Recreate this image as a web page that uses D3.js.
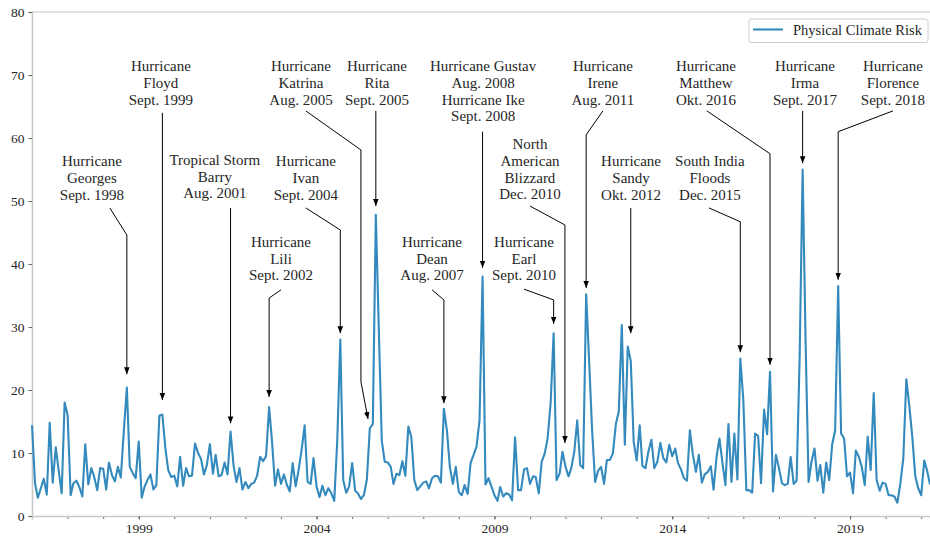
<!DOCTYPE html>
<html>
<head>
<meta charset="utf-8">
<script src="https://cdn.jsdelivr.net/npm/d3@7"></script>
<style>
  body { margin: 0; background: #fff; }
  svg { display: block; }
  text { font-family: "Liberation Serif", "Times New Roman", serif; fill: #262626; }
</style>
</head>
<body>
<svg id="chart" width="930" height="540"></svg>
<script>
// Monthly physical climate risk index, starting January 1996
const startYear = 1996;
const riskValues = [
  14.4, 5.2, 2.9, 4.4, 5.9, 3.4, 14.8, 5.3, 10.9, 7.2, 3.6, 18.0,   // 1996
  16.0, 3.3, 5.2, 5.6, 4.6, 3.1, 11.4, 5.0, 7.6, 6.2, 4.1, 7.6,     // 1997
  7.5, 4.2, 8.5, 6.5, 5.5, 7.8, 6.1, 13.5, 20.4, 7.8, 6.8, 6.0,     // 1998
  11.8, 2.9, 4.6, 5.7, 6.6, 4.2, 4.9, 15.9, 16.1, 10.8, 7.2, 6.2,   // 1999
  6.4, 4.7, 9.4, 4.8, 7.6, 6.3, 6.4, 11.5, 10.0, 9.1, 6.6, 8.1,     // 2000
  11.4, 6.7, 9.7, 6.3, 6.5, 8.5, 6.6, 13.4, 8.0, 5.4, 7.6, 4.2,     // 2001
  5.4, 4.4, 5.1, 5.3, 6.4, 9.4, 8.7, 9.5, 17.3, 11.8, 4.8, 7.4,     // 2002
  5.1, 6.6, 5.0, 3.9, 8.4, 4.7, 7.3, 10.5, 14.4, 5.4, 5.1, 9.2,     // 2003
  4.7, 3.0, 4.8, 3.3, 4.4, 3.6, 2.4, 12.0, 28.0, 5.7, 3.7, 4.7,     // 2004
  8.4, 4.0, 3.6, 2.7, 3.3, 5.8, 13.9, 14.6, 47.8, 30.0, 12.0, 8.6,  // 2005
  8.5, 7.8, 5.1, 6.7, 6.5, 8.7, 6.4, 14.2, 12.5, 5.7, 4.1, 4.7,     // 2006
  5.3, 5.5, 4.4, 6.0, 6.4, 6.3, 5.3, 17.0, 13.6, 7.8, 5.1, 7.8,     // 2007
  3.8, 3.3, 4.9, 3.5, 8.4, 9.7, 11.0, 15.2, 38.0, 5.0, 6.0, 4.7,    // 2008
  3.3, 2.4, 4.6, 3.1, 3.6, 3.4, 2.5, 12.5, 4.1, 4.1, 7.4, 7.6,      // 2009
  5.1, 6.3, 6.2, 3.6, 8.6, 9.9, 12.3, 17.9, 29.0, 5.7, 6.7, 10.2,   // 2010
  7.8, 6.3, 7.6, 10.2, 15.2, 8.1, 7.6, 35.2, 24.4, 13.6, 5.4, 7.2,  // 2011
  7.8, 5.1, 8.9, 8.9, 9.9, 14.6, 16.6, 30.3, 11.3, 26.9, 24.6, 11.8, // 2012
  8.8, 14.4, 7.9, 7.6, 10.2, 12.1, 7.6, 8.6, 11.6, 9.2, 8.5, 11.3,  // 2013
  9.5, 10.7, 8.4, 7.4, 6.0, 5.6, 13.6, 9.7, 7.0, 9.7, 5.3, 6.6,     // 2014
  7.0, 7.9, 4.2, 9.4, 12.3, 8.4, 4.9, 14.6, 5.4, 13.1, 5.8, 25.0,   // 2015
  18.4, 4.1, 4.1, 3.7, 13.1, 12.7, 5.2, 16.9, 13.0, 22.9, 3.9, 9.7, // 2016
  7.6, 5.2, 4.9, 5.1, 9.4, 5.1, 5.6, 25.0, 55.0, 28.0, 5.4, 8.6,    // 2017
  10.7, 5.6, 8.1, 3.7, 8.5, 5.7, 11.3, 13.6, 36.5, 13.1, 12.3, 6.3, // 2018
  6.9, 3.6, 10.4, 9.4, 7.8, 4.9, 12.6, 7.3, 19.5, 5.7, 4.0, 5.3,    // 2019
  5.1, 3.3, 3.3, 3.1, 2.1, 5.2, 9.2, 21.7, 17.4, 12.6, 6.3, 4.4,    // 2020
  3.3, 8.8, 7.3, 5.0                                                // 2021
];
const seriesName = "Physical Climate Risk";
const yTicks = [0, 10, 20, 30, 40, 50, 60, 70, 80];
const xLabelYears = [1999, 2004, 2009, 2014, 2019];
const yMax = 80;

// Event labels; positions are [months since Jan 1996, index value]
const eventLabels = [
  ["Hurricane", "Georges", "Sept. 1998"],
  ["Hurricane", "Floyd", "Sept. 1999"],
  ["Tropical Storm", "Barry", "Aug. 2001"],
  ["Hurricane", "Lili", "Sept. 2002"],
  ["Hurricane", "Ivan", "Sept. 2004"],
  ["Hurricane", "Katrina", "Aug. 2005"],
  ["Hurricane", "Rita", "Sept. 2005"],
  ["Hurricane Gustav", "Aug. 2008", "Hurricane Ike", "Sept. 2008"],
  ["Hurricane", "Dean", "Aug. 2007"],
  ["North", "American", "Blizzard", "Dec. 2010"],
  ["Hurricane", "Earl", "Sept. 2010"],
  ["Hurricane", "Irene", "Aug. 2011"],
  ["Hurricane", "Sandy", "Okt. 2012"],
  ["South India", "Floods", "Dec. 2015"],
  ["Hurricane", "Matthew", "Okt. 2016"],
  ["Hurricane", "Irma", "Sept. 2017"],
  ["Hurricane", "Florence", "Sept. 2018"]
];
const eventTextAt = [
  [20.2, 56.3], [43.5, 71.4], [61.7, 56.5], [84.0, 43.5], [92.4, 56.3],
  [90.8, 71.4], [116.4, 71.4], [152.2, 71.4], [135.0, 43.5], [168.0, 59.0],
  [166.0, 43.5], [192.6, 71.4], [202.1, 56.3], [228.7, 56.3], [227.4, 71.4],
  [260.8, 71.4], [290.5, 71.4]
];
const eventArrows = [
  [[26.3, 48.9], [32, 44.6], [32, 22.5]],
  [[44, 64.0], [44, 18.4]],
  [[67, 48.9], [67, 14.7]],
  [[84.0, 35.9], [80, 34.6], [80, 18.9]],
  [[92.4, 48.9], [104, 45.4], [104, 29.0]],
  [[92.4, 64.3], [111, 58.1], [111, 21.3], [113.4, 15.4]],
  [[116, 64.3], [116, 49.2]],
  [[152, 61.0], [152, 39.4]],
  [[135.0, 35.9], [139, 34.3], [139, 17.9]],
  [[168.0, 49.2], [179.8, 46.2], [179.8, 11.6]],
  [[166.0, 36.0], [176, 34.3], [176, 30.5]],
  [[192.6, 64.3], [187, 60.5], [187, 36.2]],
  [[202, 48.9], [202, 29.0]],
  [[228.4, 48.9], [239, 46.7], [239, 26.0]],
  [[227.7, 64.3], [249, 57.5], [249, 24.0]],
  [[260, 64.3], [260, 56.0]],
  [[290.5, 64.3], [272, 61.0], [272, 37.5]]
];

const svg = d3.select("#chart");
const margin = { left: 32, right: 0, top: 12, bottom: 24 };
const W = 930, H = 540;

const series = riskValues.map((v, i) => ({ date: new Date(startYear, i, 1), value: v }));

const x = d3.scaleTime()
  .domain([series[0].date, series[series.length - 1].date])
  .range([margin.left, W - margin.right]);
const y = d3.scaleLinear().domain([0, yMax]).range([H - margin.bottom, margin.top]);

// fractional month index -> date
const mDate = m => {
  const whole = Math.floor(m), frac = m - whole;
  const a = new Date(startYear, whole, 1), b = new Date(startYear, whole + 1, 1);
  return new Date(+a + frac * (b - a));
};

// top spine in light grey
svg.append("line").attr("x1", margin.left).attr("x2", W).attr("y1", y(yMax)).attr("y2", y(yMax))
  .attr("stroke", "#c8c8c8").attr("stroke-width", 1.2);

const serif = "Liberation Serif, Times New Roman, serif";

// y axis
const yAxis = svg.append("g").attr("transform", `translate(${margin.left},0)`)
  .call(d3.axisLeft(y).tickValues(yTicks).tickSize(3.5).tickPadding(4).tickFormat(d3.format("d")))
  .attr("font-family", serif).attr("font-size", 13.5);
yAxis.select(".domain").attr("stroke", "#c8c8c8").attr("stroke-width", 1.6);
yAxis.selectAll(".tick line").attr("stroke", "#555").attr("stroke-width", 0.9);
yAxis.selectAll("text").attr("fill", "#262626");

// x axis: a minor tick every year, labels every five years
const yearTicks = d3.range(startYear, 2022).map(yr => new Date(yr, 0, 1));
const xMinor = svg.append("g").attr("transform", `translate(0,${y(0)})`)
  .call(d3.axisBottom(x).tickValues(yearTicks).tickSize(3).tickFormat(""));
xMinor.select(".domain").remove();
xMinor.selectAll(".tick line").attr("stroke", "#555").attr("stroke-width", 0.9);

const xAxis = svg.append("g").attr("transform", `translate(0,${y(0)})`)
  .call(d3.axisBottom(x).tickValues(xLabelYears.map(yr => new Date(yr, 0, 1)))
    .tickSize(3.5).tickPadding(4).tickFormat(d3.timeFormat("%Y")))
  .attr("font-family", serif).attr("font-size", 13.5);
xAxis.select(".domain").attr("stroke", "#c8c8c8").attr("stroke-width", 1.6);
xAxis.selectAll(".tick line").attr("stroke", "#555").attr("stroke-width", 0.9);
xAxis.selectAll("text").attr("fill", "#262626");

// series line
const line = d3.line().x(d => x(d.date)).y(d => y(d.value));
svg.append("path").datum(series)
  .attr("d", line)
  .attr("fill", "none")
  .attr("stroke", "#348ABD")
  .attr("stroke-width", 2.1)
  .attr("stroke-linejoin", "round");

// arrowhead
svg.append("defs").append("marker")
  .attr("id", "head").attr("viewBox", "0 0 10 10")
  .attr("refX", 10).attr("refY", 5)
  .attr("markerWidth", 7).attr("markerHeight", 7)
  .attr("markerUnits", "userSpaceOnUse")
  .attr("orient", "auto")
  .append("path").attr("d", "M0,1 L10,5 L0,9 Z").attr("fill", "#000");

// annotations
const lineGap = 16.7;
eventLabels.forEach((lines, i) => {
  const [tm, tv] = eventTextAt[i];
  const tx = x(mDate(tm)), ty = y(tv);
  const t = svg.append("text")
    .attr("text-anchor", "middle")
    .attr("font-size", 15)
    .attr("fill", "#1a1a1a");
  lines.forEach((s, k) => {
    t.append("tspan").attr("x", tx).attr("y", ty + k * lineGap)
      .attr("dominant-baseline", "central").text(s);
  });
  const pts = eventArrows[i].map(([m, v]) => [x(mDate(m)), y(v)]);
  svg.append("path")
    .attr("d", d3.line()(pts))
    .attr("fill", "none")
    .attr("stroke", "#000")
    .attr("stroke-width", 1)
    .attr("marker-end", "url(#head)");
});

// legend
const lg = svg.append("g");
lg.append("rect").attr("x", 749).attr("y", 19).attr("width", 179).attr("height", 23.5)
  .attr("rx", 2.5).attr("fill", "#fff").attr("stroke", "#cccccc").attr("stroke-width", 1);
lg.append("line").attr("x1", 753).attr("x2", 783).attr("y1", 29.5).attr("y2", 29.5)
  .attr("stroke", "#348ABD").attr("stroke-width", 2.1);
lg.append("text").attr("x", 793).attr("y", 30).attr("dominant-baseline", "central")
  .attr("font-size", 14.5).attr("fill", "#1a1a1a").text(seriesName);
</script>
</body>
</html>
